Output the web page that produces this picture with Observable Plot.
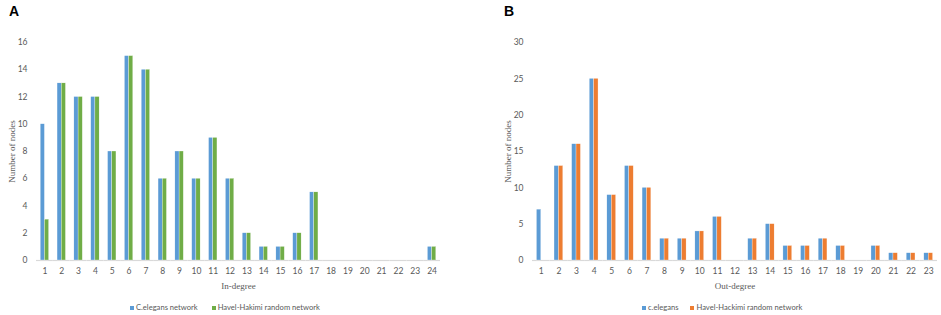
<!DOCTYPE html>
<html>
<head>
<meta charset="utf-8">
<script src="https://cdn.jsdelivr.net/npm/d3@7"></script>
<script src="https://cdn.jsdelivr.net/npm/@observablehq/plot@0.6"></script>
<style>
  html, body { margin: 0; padding: 0; background: #fff; }
  #wrap { position: relative; width: 941px; height: 315px; overflow: hidden; }
  .panel { position: absolute; top: 0; }
  .tag { position: absolute; top: 3px; font: bold 14px "Liberation Sans", Arial, sans-serif; color: #000; }
  .legend { position: absolute; top: 302px; display: flex; font: 7.6px Lato, "Liberation Sans", sans-serif; color: #595959; white-space: nowrap; line-height: 10px; }
  .legend span.sw { display: inline-block; width: 4px; height: 4px; margin-right: 2px; vertical-align: 0px; }
</style>
</head>
<body>
<div id="wrap">
  <div class="panel" id="pA" style="left:0"></div>
  <div class="panel" id="pB" style="left:470px"></div>
  <div class="tag" style="left:9px">A</div>
  <div class="tag" style="left:504px">B</div>
  <div class="legend" id="legA" style="left:130px; gap:14px"></div>
  <div class="legend" id="legB" style="left:642px; gap:12px"></div>
</div>
<script>
// Panel A data (in-degree)
const inDegree = [1,2,3,4,5,6,7,8,9,10,11,12,13,14,15,16,17,18,19,20,21,22,23,24];
const inCelegans = [10,13,12,12,8,15,14,6,8,6,9,6,2,1,1,2,5,0,0,0,0,0,0,1];
const inHavelHakimi = [3,13,12,12,8,15,14,6,8,6,9,6,2,1,1,2,5,0,0,0,0,0,0,1];
const inSeries = ["C.elegans network", "Havel-Hakimi random network"];
const inTicks = [0,2,4,6,8,10,12,14,16];

// Panel B data (out-degree)
const outDegree = [1,2,3,4,5,6,7,8,9,10,11,12,13,14,15,16,17,18,19,20,21,22,23];
const outCelegans = [7,13,16,25,9,13,10,3,3,4,6,0,3,5,2,2,3,2,0,2,1,1,1];
const outHavelHakimi = [0,13,16,25,9,13,10,3,3,4,6,0,3,5,2,2,3,2,0,2,1,1,1];
const outSeries = ["c.elegans", "Havel-Hackimi random network"];
const outTicks = [0,5,10,15,20,25,30];

const blue = "#5B9BD5", green = "#70AD47", orange = "#ED7D31";

function panel({degrees, a, b, names, colors, ticks, xLabel, width, ml, mr}) {
  const data = degrees.flatMap((d, i) => [
    {degree: d, series: names[0], value: a[i]},
    {degree: d, series: names[1], value: b[i]}
  ]);
  return Plot.plot({
    width, height: 295,
    marginTop: 42, marginBottom: 35, marginLeft: ml, marginRight: mr,
    style: {fontFamily: "Lato, 'Liberation Sans', sans-serif", fontSize: "8.5px", color: "#595959", background: "transparent"},
    fx: {domain: degrees, paddingInner: 0, paddingOuter: 0, round: false},
    x: {domain: names, paddingInner: 0, paddingOuter: 1, round: false, axis: null},
    y: {domain: [0, ticks[ticks.length - 1]], axis: null},
    color: {domain: names, range: colors},
    marks: [
      Plot.ruleY([0], {stroke: "#d9d9d9", strokeWidth: 1.2}),
      Plot.barY(data, {fx: "degree", x: "series", y: "value", fill: "series", stroke: "white", strokeWidth: 0.3}),
      Plot.axisY({ticks, tickSize: 0, tickPadding: 9, label: null}),
      Plot.axisY({ticks: [], tickSize: 0, label: "Number of nodes", labelArrow: "none", labelAnchor: "center", labelOffset: 28, fontFamily: "'Liberation Serif', serif", fontSize: 9}),
      Plot.axisFx({anchor: "bottom", tickSize: 0, tickPadding: 7, label: null}),
      Plot.axisFx({anchor: "bottom", ticks: [], tickSize: 0, label: xLabel, labelArrow: "none", labelAnchor: "center", labelOffset: 28, fontFamily: "'Liberation Serif', serif", fontSize: 9})
    ]
  });
}

document.getElementById("pA").append(panel({
  degrees: inDegree, a: inCelegans, b: inHavelHakimi, names: inSeries,
  colors: [blue, green], ticks: inTicks, xLabel: "In-degree", width: 470, ml: 36, mr: 30
}));
document.getElementById("pB").append(panel({
  degrees: outDegree, a: outCelegans, b: outHavelHakimi, names: outSeries,
  colors: [blue, orange], ticks: outTicks, xLabel: "Out-degree", width: 471, ml: 62, mr: 4
}));

function legend(id, names, colors) {
  const el = document.getElementById(id);
  names.forEach((n, i) => {
    const item = document.createElement("div");
    const sw = document.createElement("span");
    sw.className = "sw";
    sw.style.background = colors[i];
    item.append(sw, document.createTextNode(n));
    el.append(item);
  });
}
legend("legA", inSeries, [blue, green]);
legend("legB", outSeries, [blue, orange]);
</script>
</body>
</html>
